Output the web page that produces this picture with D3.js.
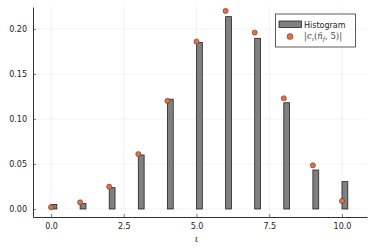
<!DOCTYPE html>
<html>
<head>
<meta charset="utf-8">
<script src="https://cdn.jsdelivr.net/npm/d3@7"></script>
<style>
  body { margin: 0; background: #fff; }
  text { font-family: "DejaVu Sans", sans-serif; }
</style>
</head>
<body>
<svg id="chart" width="374" height="249"></svg>
<script>
// data
var levels = [0, 1, 2, 3, 4, 5, 6, 7, 8, 9, 10];
var histValues = [0.005, 0.006, 0.0237, 0.060, 0.122, 0.185, 0.2137, 0.1896, 0.118, 0.0433, 0.0304];
var coeffValues = [0.002, 0.0074, 0.0248, 0.061, 0.120, 0.186, 0.220, 0.196, 0.123, 0.0485, 0.0089];
var xTicks = [0, 2.5, 5, 7.5, 10];
var yTicks = [0, 0.05, 0.10, 0.15, 0.20];
var binWidth = 0.2;

(function () {
    'use strict';

    var svg = d3.select("#chart");

    var plotLeft = 33, plotRight = 367, plotTop = 7, plotBottom = 217;

    var x = d3.scaleLinear().domain([-0.62, 10.86]).range([plotLeft, plotRight]);
    var y = d3.scaleLinear().domain([-0.0089, 0.2244]).range([plotBottom, plotTop]);

    // grid
    svg.append("g").selectAll("line")
        .data(xTicks).enter().append("line")
        .attr("x1", function (d) { return x(d); })
        .attr("x2", function (d) { return x(d); })
        .attr("y1", plotTop).attr("y2", plotBottom)
        .attr("stroke", "#000").attr("stroke-opacity", 0.1).attr("stroke-width", 0.5);
    svg.append("g").selectAll("line")
        .data(yTicks).enter().append("line")
        .attr("y1", function (d) { return y(d); })
        .attr("y2", function (d) { return y(d); })
        .attr("x1", plotLeft).attr("x2", plotRight)
        .attr("stroke", "#000").attr("stroke-opacity", 0.1).attr("stroke-width", 0.5);

    // bars
    svg.append("g").selectAll("rect")
        .data(levels).enter().append("rect")
        .attr("x", function (d) { return x(d); })
        .attr("width", function (d) { return x(d + binWidth) - x(d); })
        .attr("y", function (d, i) { return y(histValues[i]); })
        .attr("height", function (d, i) { return y(0) - y(histValues[i]); })
        .attr("fill", "#808080")
        .attr("stroke", "#222")
        .attr("stroke-width", 0.8);

    // points
    svg.append("g").selectAll("circle")
        .data(levels).enter().append("circle")
        .attr("cx", function (d) { return x(d); })
        .attr("cy", function (d, i) { return y(coeffValues[i]); })
        .attr("r", 2.6)
        .attr("fill", "#e26f46")
        .attr("stroke", "#4a2a20")
        .attr("stroke-width", 0.5);

    // axes
    var xAxis = d3.axisBottom(x).tickValues(xTicks).tickSizeInner(-3).tickSizeOuter(0)
        .tickPadding(6).tickFormat(d3.format(".1f"));
    var yAxis = d3.axisLeft(y).tickValues(yTicks).tickSizeInner(-3).tickSizeOuter(0)
        .tickPadding(6).tickFormat(d3.format(".2f"));

    var gx = svg.append("g").attr("transform", "translate(0," + plotBottom + ")").call(xAxis);
    var gy = svg.append("g").attr("transform", "translate(" + plotLeft + ",0)").call(yAxis);
    [gx, gy].forEach(function (g) {
        g.select(".domain").attr("stroke", "#333").attr("stroke-width", 1);
        g.selectAll(".tick line").attr("stroke", "#333").attr("stroke-width", 0.6);
        g.selectAll(".tick text").attr("fill", "#222").style("font-size", "8px");
    });

    // x label
    svg.append("text")
        .attr("x", x(5)).attr("y", 242)
        .attr("text-anchor", "middle")
        .style("font-family", "'DejaVu Serif', serif")
        .style("font-size", "10px").style("font-style", "italic")
        .attr("fill", "#444")
        .text("ι");

    // legend
    var lg = svg.append("g");
    lg.append("rect")
        .attr("x", 275.5).attr("y", 14).attr("width", 80).attr("height", 33)
        .attr("fill", "#fff").attr("stroke", "#333").attr("stroke-width", 0.8);
    lg.append("rect")
        .attr("x", 279).attr("y", 21).attr("width", 22.5).attr("height", 6.5)
        .attr("fill", "#808080").attr("stroke", "#222").attr("stroke-width", 0.8);
    lg.append("text")
        .attr("x", 304).attr("y", 27.5)
        .style("font-size", "8px").attr("fill", "#222")
        .text("Histogram");
    lg.append("circle")
        .attr("cx", 290).attr("cy", 36.5).attr("r", 3)
        .attr("fill", "#e26f46").attr("stroke", "#4a2a20").attr("stroke-width", 0.5);
    var mt = lg.append("text")
        .attr("x", 304).attr("y", 39)
        .style("font-family", "'DejaVu Serif', serif")
        .style("font-size", "8.5px").attr("fill", "#444");
    mt.append("tspan").text("|");
    mt.append("tspan").style("font-style", "italic").text("c");
    mt.append("tspan").attr("dy", 1.5).style("font-size", "6px").style("font-style", "italic").text("ι");
    mt.append("tspan").attr("dy", -1.5).text("(");
    mt.append("tspan").style("font-style", "italic").text("n\u0303");
    mt.append("tspan").attr("dy", 1.5).style("font-size", "6px").style("font-style", "italic").text("f");
    mt.append("tspan").attr("dy", -1.5).text(", 5)|");
}());
</script>
</body>
</html>
